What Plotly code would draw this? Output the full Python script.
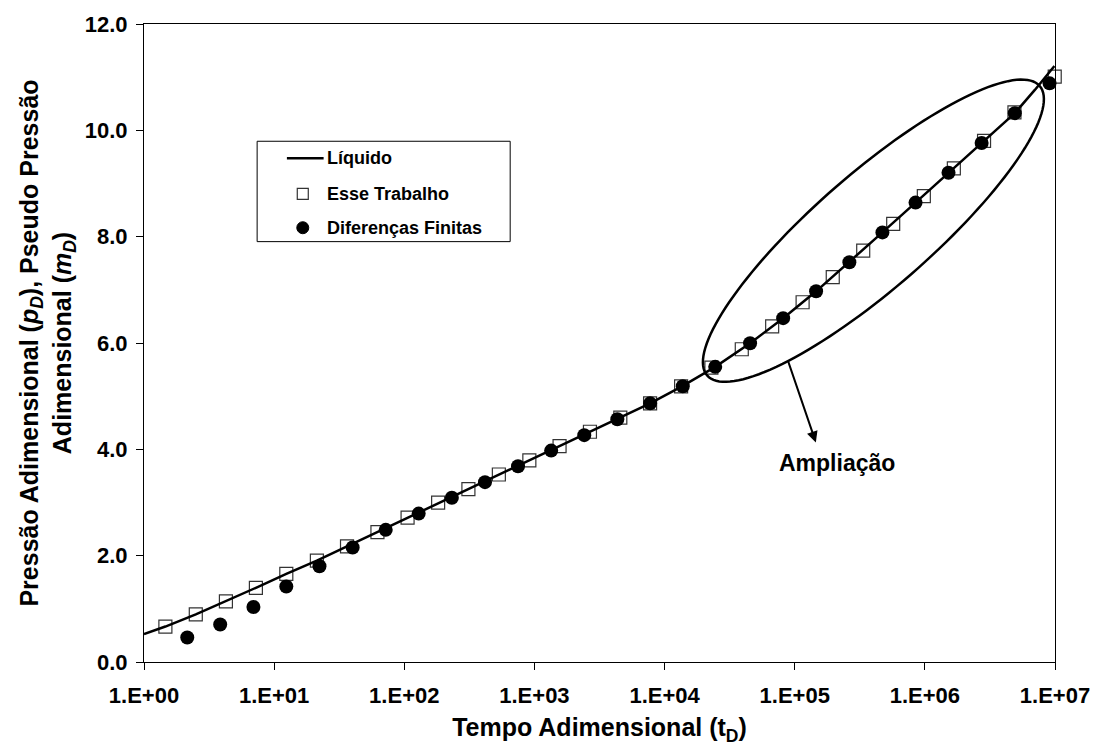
import numpy as np
import plotly.graph_objects as go

# ---- data -------------------------------------------------------------
# Líquido (analytical solution)
t_liq = [1, 1.46, 2.5, 4.26, 7.24, 12.4, 21.3, 36.3, 62.2, 106, 182, 311, 533,
         914, 1560, 2670, 4570, 7740, 13600, 24500, 45400, 81500, 146000,
         263000, 472000, 848000, 1520000, 2730000, 4910000, 7000000, 9900000]
p_liq = [0.523, 0.667, 0.897, 1.14, 1.396, 1.658, 1.907, 2.174, 2.443, 2.716,
         2.99, 3.25, 3.52, 3.79, 4.06, 4.33, 4.60, 4.865, 5.185, 5.551, 5.994,
         6.467, 6.972, 7.52, 8.08, 8.641, 9.202, 9.763, 10.323, 10.76, 11.21]

# Esse Trabalho
t_esse = [1.46, 2.50, 4.26, 7.24, 12.4, 21.3, 36.3, 62.2, 106, 182, 311, 533,
          914, 1560, 2670, 4570, 7740, 13400, 22900, 39200, 67100, 115000,
          196000, 336000, 571000, 982000, 1670000, 2850000, 4880000, 9950000]
p_esse = [0.667, 0.897, 1.140, 1.396, 1.658, 1.907, 2.174, 2.443, 2.716, 2.996,
          3.252, 3.527, 3.794, 4.062, 4.331, 4.598, 4.865, 5.183, 5.538, 5.882,
          6.312, 6.766, 7.239, 7.738, 8.240, 8.761, 9.284, 9.800, 10.336, 11.009]

# Diferenças Finitas
t_dif = [2.15, 3.85, 6.93, 12.4, 22.3, 40.1, 72.0, 129, 232, 417, 748, 1345,
         2415, 4335, 7740, 13800, 24500, 45400, 81500, 146000, 263000, 472000,
         848000, 1520000, 2730000, 4910000, 9080000]
p_dif = [0.462, 0.705, 1.034, 1.421, 1.800, 2.155, 2.486, 2.791, 3.090, 3.383,
         3.682, 3.976, 4.267, 4.566, 4.865, 5.187, 5.551, 5.994, 6.467, 6.972,
         7.520, 8.080, 8.641, 9.202, 9.763, 10.323, 10.884]

x_tickvals = [1, 10, 100, 1000, 10000, 100000, 1000000, 10000000]
x_ticktext = ["1.E+00", "1.E+01", "1.E+02", "1.E+03", "1.E+04", "1.E+05",
              "1.E+06", "1.E+07"]

series_names = ["Líquido", "Esse Trabalho", "Diferenças Finitas"]

# ---- layout geometry --------------------------------------------------
W, H = 1102, 749
ML, MR, MT, MB = 144, 40, 21, 86
PW, PH = W - ML - MR, H - MT - MB


def px_to_paper(px, py):
    return (px - ML) / PW, (H - MB - py) / PH


FONT = "Liberation Sans, Arial, sans-serif"

fig = go.Figure()

fig.add_trace(go.Scatter(
    x=t_esse, y=p_esse, mode="markers", name=series_names[1],
    showlegend=False, cliponaxis=False,
    marker=dict(symbol="square-open", size=13, color="#333333",
                line=dict(width=1.2, color="#333333")),
))
fig.add_trace(go.Scatter(
    x=t_dif, y=p_dif, mode="markers", name=series_names[2],
    showlegend=False, cliponaxis=False,
    marker=dict(symbol="circle", size=14, color="black"),
))
fig.add_trace(go.Scatter(
    x=t_liq, y=p_liq, mode="lines", name=series_names[0],
    showlegend=False,
    line=dict(color="black", width=2.5),
))

# ellipse around the zoomed region (drawn in pixel space, mapped to paper)
cx, cy, a, b, ang = 879, 229, 222, 58, np.deg2rad(41)
th = np.linspace(0, 2 * np.pi, 145)
ex = cx + a * np.cos(th) * np.cos(ang) - b * np.sin(th) * np.sin(ang)
ey = cy - a * np.cos(th) * np.sin(ang) - b * np.sin(th) * np.cos(ang)
pts = [px_to_paper(x, y) for x, y in zip(ex, ey)]
path = "M " + " L ".join(f"{x:.5f},{y:.5f}" for x, y in pts) + " Z"
fig.add_shape(type="path", path=path, xref="paper", yref="paper",
              line=dict(color="black", width=2.5), layer="above")

# arrow and label
hx, hy = px_to_paper(821, 442)
fig.add_annotation(x=hx, y=hy, xref="paper", yref="paper", ax=-28, ay=-82,
                   axref="pixel", ayref="pixel", showarrow=True, arrowhead=2,
                   arrowsize=1.1, arrowwidth=2, arrowcolor="black", text="")
lx, ly = px_to_paper(842, 463)
fig.add_annotation(x=lx, y=ly, xref="paper", yref="paper", showarrow=False,
                   xanchor="center", yanchor="middle",
                   text="<b>Ampliação</b>",
                   font=dict(size=23, color="black", family=FONT))

# ---- legend box -------------------------------------------------------
bx0, by0 = px_to_paper(258, 139)
bx1, by1 = px_to_paper(513, 240)
fig.add_shape(type="rect", xref="paper", yref="paper", x0=bx0, y0=by1,
              x1=bx1, y1=by0, line=dict(color="black", width=1),
              fillcolor="white", layer="above")
rows_y = [156, 192, 226]
text_x = 326
sym_x = 304
# line sample
lx0, ly0 = px_to_paper(288, rows_y[0])
lx1, _ = px_to_paper(325, rows_y[0])
fig.add_shape(type="line", xref="paper", yref="paper", x0=lx0, x1=lx1,
              y0=ly0, y1=ly0, line=dict(color="black", width=2.5),
              layer="above")
# open square sample
sx, sy = px_to_paper(sym_x, rows_y[1])
fig.add_shape(type="rect", xref="paper", yref="paper",
              xsizemode="pixel", ysizemode="pixel", xanchor=sx, yanchor=sy,
              x0=-5.5, x1=5.5, y0=-5.5, y1=5.5,
              line=dict(color="#333333", width=1.2), fillcolor="white",
              layer="above")
# filled circle sample
cxl, cyl = px_to_paper(sym_x, rows_y[2])
fig.add_shape(type="circle", xref="paper", yref="paper",
              xsizemode="pixel", ysizemode="pixel", xanchor=cxl, yanchor=cyl,
              x0=-6, x1=6, y0=-6, y1=6,
              line=dict(color="black", width=1), fillcolor="black",
              layer="above")
for name, ry in zip(series_names, rows_y):
    tx, ty = px_to_paper(text_x, ry)
    fig.add_annotation(x=tx, y=ty, xref="paper", yref="paper",
                       showarrow=False, xanchor="left", yanchor="middle",
                       text=f"<b>{name}</b>",
                       font=dict(size=18, color="black", family=FONT))

fig.update_layout(
    width=W, height=H,
    margin=dict(l=ML, r=MR, t=MT, b=MB),
    paper_bgcolor="white", plot_bgcolor="white",
    font=dict(family=FONT, color="black"),
    showlegend=False,
    xaxis=dict(
        type="log", range=[0, 7], tickvals=x_tickvals, ticktext=x_ticktext,
        showgrid=False, zeroline=False, showline=True, linecolor="black",
        linewidth=1, mirror=True, ticks="outside", ticklen=7,
        tickcolor="black", tickfont=dict(size=22, weight="bold"),
        ticklabelstandoff=7,
        title=dict(text="<b>Tempo Adimensional (t<sub>D</sub>)</b>",
                   font=dict(size=25), standoff=11),
    ),
    yaxis=dict(
        range=[0, 12], dtick=2, tickformat=".1f",
        showgrid=False, zeroline=False, showline=True, linecolor="black",
        linewidth=1, mirror=True, ticks="outside", ticklen=7,
        tickcolor="black", tickfont=dict(size=22, weight="bold"),
        ticklabelstandoff=4,
        title=dict(text="<b>Pressão Adimensional (<i>p</i><sub><i>D</i></sub>), "
                        "Pseudo Pressão<br>Adimensional (<i>m</i><sub><i>D</i></sub>)</b>",
                   font=dict(size=25), standoff=6),
    ),
)

fig.write_html("out.html")
